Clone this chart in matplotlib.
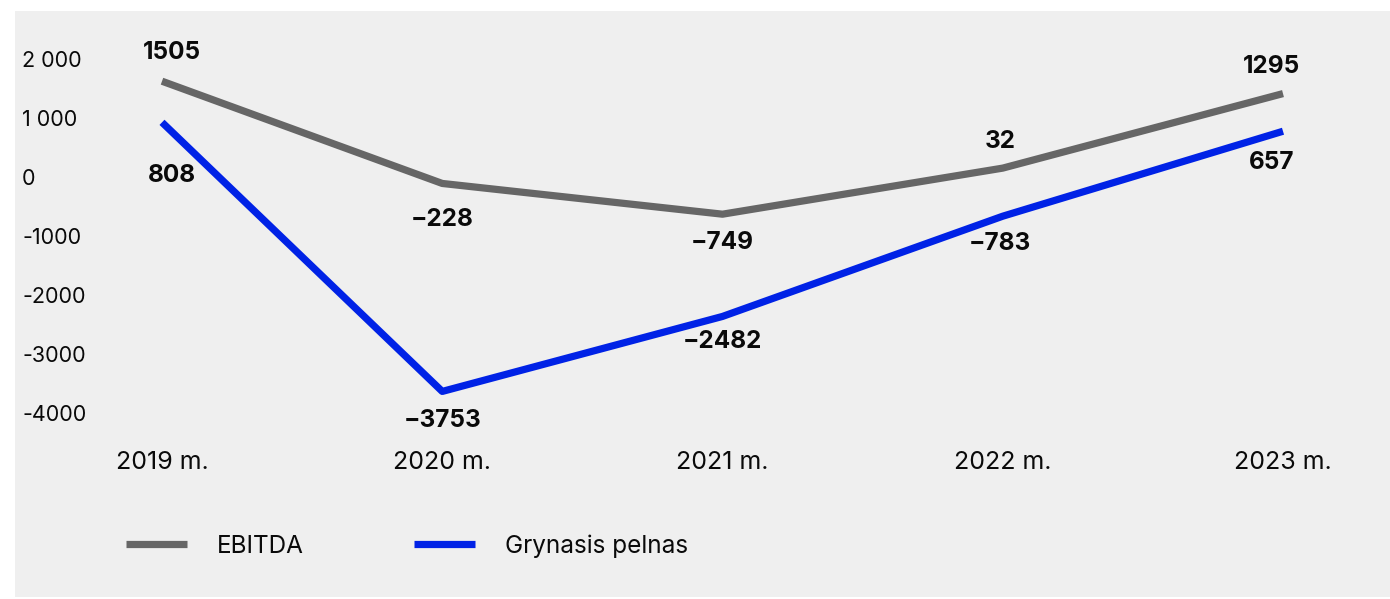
import matplotlib.pyplot as plt
from matplotlib import transforms

plt.rcParams['font.family'] = ['Inter', 'DejaVu Sans']

years = ['2019 m.', '2020 m.', '2021 m.', '2022 m.', '2023 m.']
ebitda = [1505, -228, -749, 32, 1295]
grynasis = [808, -3753, -2482, -783, 657]
y_ticks = [2000, 1000, 0, -1000, -2000, -3000, -4000]
y_tick_labels = ['2 000', '1 000', '0', '-1000', '-2000', '-3000', '-4000']

GREY = '#666666'
BLUE = '#0022e6'
BG = '#efefef'
TXT = '#0a0a0a'

# poslinkiai etiketems (pikseliais)
ebitda_off = [(10, 29), (0, -36), (0, -28), (-3, 27), (-11, 27)]
gryn_off = [(10, -53), (0, -29), (0, -25), (-3, -27), (-11, -31)]


def fmt(v):
    return str(v).replace('-', '\u2212')


W, H = 1390, 599
fig = plt.figure(figsize=(W / 100, H / 100), dpi=100, facecolor='white')

# pilkas fonas
bg = fig.add_axes([15 / W, 2 / H, (W - 15) / W, (H - 13) / H])
bg.set_facecolor(BG)
bg.set_xticks([])
bg.set_yticks([])
for s in bg.spines.values():
    s.set_visible(False)

left, right, top, bottom = 100, 1350, 30, 440
ax = fig.add_axes([left / W, (H - bottom) / H, (right - left) / W, (bottom - top) / H])
ax.set_facecolor('none')
for s in ax.spines.values():
    s.set_visible(False)

x = list(range(len(years)))
ax.plot(x, ebitda, color=GREY, lw=5.2, solid_capstyle='butt', label='EBITDA')
ax.plot(x, grynasis, color=BLUE, lw=5.2, solid_capstyle='butt', label='Grynasis pelnas')

unit = (1283 - 162) / 4
ax.set_xlim(-(162 - left) / unit, 4 + (right - 1283) / unit)
ax.set_ylim(-(bottom - 170) / 0.059, (170 - top) / 0.059)

for i in x:
    ax.annotate(fmt(ebitda[i]), (i, ebitda[i]), xytext=ebitda_off[i],
                textcoords='offset pixels', ha='center', va='center',
                fontsize=17.5, fontweight='bold', color=TXT)
    ax.annotate(fmt(grynasis[i]), (i, grynasis[i]), xytext=gryn_off[i],
                textcoords='offset pixels', ha='center', va='center',
                fontsize=17.5, fontweight='bold', color=TXT)

ax.set_xticks(x, years)
ax.tick_params(axis='x', length=0, pad=8, labelsize=18, labelcolor=TXT)
ax.set_yticks([])

# y asies uzrasai - siek tiek zemiau nei tikra reiksme
tr = transforms.blended_transform_factory(fig.transFigure, ax.transData)
tr = tr + transforms.ScaledTranslation(0, -9 / 100, fig.dpi_scale_trans)
for v, lab in zip(y_ticks, y_tick_labels):
    ax.text(22 / W, v, lab, transform=tr, ha='left', va='center',
            fontsize=15.5, color=TXT)

fig.legend(loc='center left', bbox_to_anchor=(104 / W, 1 - 546 / H), ncol=2,
           frameon=False, fontsize=17.5, handlelength=2.5, handletextpad=1.23,
           columnspacing=4.57, labelcolor=TXT)

fig.savefig('out.png', dpi=100, facecolor='white')
